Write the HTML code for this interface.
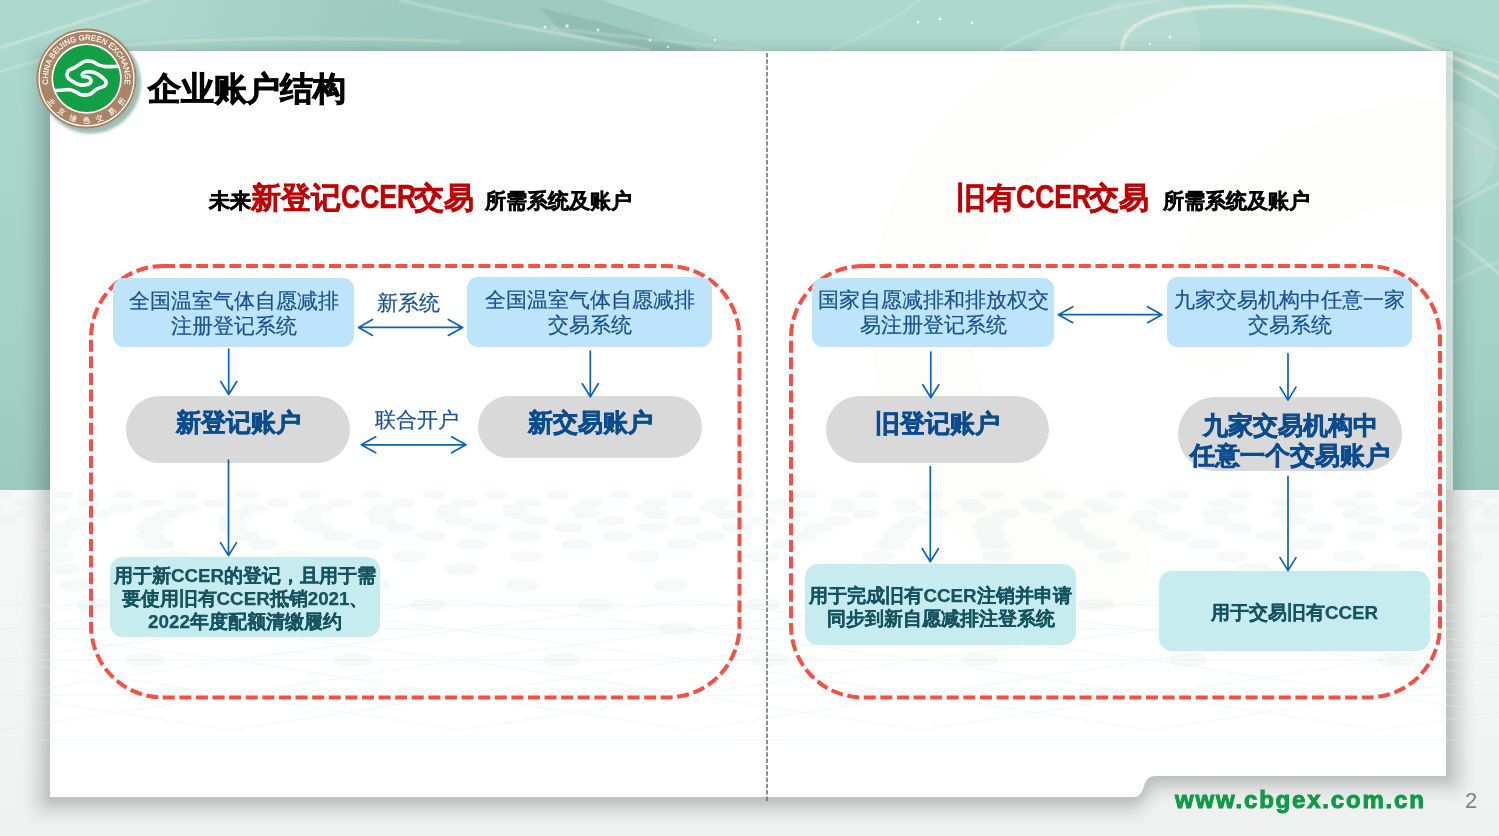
<!DOCTYPE html>
<html><head><meta charset="utf-8">
<style>
html,body{margin:0;padding:0}
body{width:1499px;height:836px;position:relative;overflow:hidden;font-family:"Liberation Sans",sans-serif;background:#f4f5f5}
.a{position:absolute}
.t{position:absolute;white-space:nowrap;text-align:center}
.blue{color:#17518e;font-size:21.2px;line-height:25px;-webkit-text-stroke:0.2px #17518e}
.pill{color:#0a4c8e;font-size:25px;font-weight:bold;line-height:29px;-webkit-text-stroke:0.7px #0a4c8e}
.teal{color:#15535f;font-size:18.8px;font-weight:bold;line-height:23px;-webkit-text-stroke:0.25px #15535f}
.lbl{color:#17518e;font-size:21px;line-height:24px;-webkit-text-stroke:0.2px #17518e}
</style></head><body>

<!-- top teal background -->
<div class="a" style="left:0;top:0;width:1499px;height:490px;background:linear-gradient(180deg,#acd8cd 0%,#a8d5c9 40%,#a3d0c4 75%,#9ccabd 100%)"></div>
<!-- lower background -->
<div class="a" style="left:0;top:490px;width:1499px;height:346px;background:linear-gradient(180deg,#f7f8f8 0%,#f3f4f4 60%,#eeefef 100%)"></div>

<svg class="a" style="left:0;top:0" width="1499" height="836" viewBox="0 0 1499 836">
  <defs>
    <filter id="sh" x="-10%" y="-10%" width="120%" height="120%"><feGaussianBlur stdDeviation="8"/></filter>
    <filter id="sh2" x="-10%" y="-10%" width="120%" height="120%"><feGaussianBlur stdDeviation="3"/></filter>
    <filter id="blur1"><feGaussianBlur stdDeviation="1.2"/></filter>
    <filter id="blur2"><feGaussianBlur stdDeviation="1.5"/></filter>
  </defs>
  <!-- darker building texture in top strip -->
  <linearGradient id="bld" x1="0" y1="0" x2="1" y2="0">
    <stop offset="0" stop-color="#6f9c90" stop-opacity="0"/>
    <stop offset="0.35" stop-color="#6f9c90" stop-opacity="0.22"/>
    <stop offset="0.8" stop-color="#6f9c90" stop-opacity="0.25"/>
    <stop offset="1" stop-color="#6f9c90" stop-opacity="0"/>
  </linearGradient>
  <path d="M150,0 H600 L760,51 H150 Z" fill="url(#bld)"/>
  <path d="M540,8 L600,22 L700,50 L640,51 L560,30 Z" fill="#5f8c80" opacity="0.18"/>
  <g fill="none" stroke="#eef3e2" stroke-linecap="round" filter="url(#blur1)">
    <path d="M400,0 C470,18 560,34 650,50" stroke-width="1.8" opacity="0.6"/>
  </g>
  <g fill="#f4f8ee" opacity="0.85">
    <circle cx="545" cy="27" r="1.6"/><circle cx="567" cy="26" r="1.8"/><circle cx="598" cy="30" r="1.4"/>
    <circle cx="650" cy="40" r="1.5"/><circle cx="668" cy="47" r="1.3"/><circle cx="715" cy="40" r="1.3"/>
    <circle cx="918" cy="22" r="1.5"/><circle cx="940" cy="19" r="1.7"/><circle cx="972" cy="23" r="1.3"/>
    <circle cx="1170" cy="37" r="1.6"/><circle cx="1150" cy="44" r="1.2"/>
  </g>
  <!-- light streaks in top background -->
  <g fill="none" stroke="#eef3e2" stroke-linecap="round" filter="url(#blur1)">
    <path d="M0,48 C50,32 100,14 150,0" stroke-width="2" opacity="0.6"/>
    <path d="M0,72 C40,58 90,48 140,44 C250,36 380,38 460,42" stroke-width="2" opacity="0.5"/>
    <path d="M1122,50 C1122,22 1160,8 1230,6 C1320,4 1420,40 1499,78" stroke-width="3" opacity="0.85"/>
    <path d="M1000,50 C1040,28 1090,10 1160,0" stroke-width="1.6" opacity="0.6"/>
    <path d="M1250,0 C1330,12 1420,40 1499,62" stroke-width="1.4" opacity="0.5"/>
    <path d="M830,50 C870,35 900,15 920,0" stroke-width="1.4" opacity="0.5"/>
    <path d="M550,28 C620,36 690,44 760,50" stroke-width="1.4" opacity="0.5"/>
    <path d="M1446,66 C1465,76 1485,88 1499,97" stroke-width="2.2" opacity="0.8"/>
    <path d="M1446,213 C1465,200 1485,190 1499,183" stroke-width="1.8" opacity="0.6"/>
    <path d="M1446,231 C1465,245 1485,262 1499,274" stroke-width="1.8" opacity="0.6"/>
    <path d="M1446,286 C1465,275 1485,266 1499,262" stroke-width="1.5" opacity="0.5"/>
    <path d="M1446,120 C1465,128 1485,140 1499,150" stroke-width="1.4" opacity="0.45"/>
  </g>

  <!-- card shadow -->
  <path d="M36,51 H1462 V790 H1155 L1138,812 H36 Z" fill="#000" opacity="0.15" filter="url(#sh)"/>
  <path d="M46,51 H1452 V782 H1155 L1138,804 H46 Z" fill="#000" opacity="0.06" filter="url(#sh2)"/>
  <!-- light strip right of card -->
  <rect x="1446" y="51" width="7" height="439" fill="#e2ecea" opacity="0.75"/>
  <!-- card -->
  <path d="M50,51 H1446 V776 H1155 C1149,776 1146,780 1144,786 C1142,792 1140,797 1134,797 H50 Z" fill="#ffffff"/>
  <!-- faint watermark -->
  <g fill="none" stroke="#f6f2ec" stroke-width="100" opacity="0.14" stroke-linecap="round">
    <path d="M1150,40 C1020,110 930,170 921,300 C915,420 980,520 1100,560"/>
    <path d="M1446,150 C1320,150 1220,220 1215,320"/>
  </g>
  <!-- faint lattice pattern -->
  <g id="lattice" fill="#d6ece5" opacity="0.24"><ellipse cx="-0" cy="494.8" rx="12.0" ry="4.0"/><ellipse cx="62" cy="494.8" rx="12.0" ry="4.0"/><ellipse cx="124" cy="494.8" rx="12.0" ry="4.0"/><ellipse cx="186" cy="494.8" rx="12.0" ry="4.0"/><ellipse cx="248" cy="494.8" rx="12.0" ry="4.0"/><ellipse cx="310" cy="494.8" rx="12.0" ry="4.0"/><ellipse cx="372" cy="494.8" rx="12.0" ry="4.0"/><ellipse cx="434" cy="494.8" rx="12.0" ry="4.0"/><ellipse cx="496" cy="494.8" rx="12.0" ry="4.0"/><ellipse cx="558" cy="494.8" rx="12.0" ry="4.0"/><ellipse cx="620" cy="494.8" rx="12.0" ry="4.0"/><ellipse cx="682" cy="494.8" rx="12.0" ry="4.0"/><ellipse cx="744" cy="494.8" rx="12.0" ry="4.0"/><ellipse cx="806" cy="494.8" rx="12.0" ry="4.0"/><ellipse cx="868" cy="494.8" rx="12.0" ry="4.0"/><ellipse cx="930" cy="494.8" rx="12.0" ry="4.0"/><ellipse cx="992" cy="494.8" rx="12.0" ry="4.0"/><ellipse cx="1054" cy="494.8" rx="12.0" ry="4.0"/><ellipse cx="1116" cy="494.8" rx="12.0" ry="4.0"/><ellipse cx="1178" cy="494.8" rx="12.0" ry="4.0"/><ellipse cx="1240" cy="494.8" rx="12.0" ry="4.0"/><ellipse cx="1302" cy="494.8" rx="12.0" ry="4.0"/><ellipse cx="1364" cy="494.8" rx="12.0" ry="4.0"/><ellipse cx="1426" cy="494.8" rx="12.0" ry="4.0"/><ellipse cx="1488" cy="494.8" rx="12.0" ry="4.0"/><ellipse cx="1550" cy="494.8" rx="12.0" ry="4.0"/><ellipse cx="-37" cy="503.0" rx="12.6" ry="4.2"/><ellipse cx="26" cy="503.0" rx="12.6" ry="4.2"/><ellipse cx="89" cy="503.0" rx="12.6" ry="4.2"/><ellipse cx="152" cy="503.0" rx="12.6" ry="4.2"/><ellipse cx="214" cy="503.0" rx="12.6" ry="4.2"/><ellipse cx="277" cy="503.0" rx="12.6" ry="4.2"/><ellipse cx="340" cy="503.0" rx="12.6" ry="4.2"/><ellipse cx="403" cy="503.0" rx="12.6" ry="4.2"/><ellipse cx="466" cy="503.0" rx="12.6" ry="4.2"/><ellipse cx="529" cy="503.0" rx="12.6" ry="4.2"/><ellipse cx="592" cy="503.0" rx="12.6" ry="4.2"/><ellipse cx="655" cy="503.0" rx="12.6" ry="4.2"/><ellipse cx="717" cy="503.0" rx="12.6" ry="4.2"/><ellipse cx="780" cy="503.0" rx="12.6" ry="4.2"/><ellipse cx="843" cy="503.0" rx="12.6" ry="4.2"/><ellipse cx="906" cy="503.0" rx="12.6" ry="4.2"/><ellipse cx="969" cy="503.0" rx="12.6" ry="4.2"/><ellipse cx="1032" cy="503.0" rx="12.6" ry="4.2"/><ellipse cx="1095" cy="503.0" rx="12.6" ry="4.2"/><ellipse cx="1157" cy="503.0" rx="12.6" ry="4.2"/><ellipse cx="1220" cy="503.0" rx="12.6" ry="4.2"/><ellipse cx="1283" cy="503.0" rx="12.6" ry="4.2"/><ellipse cx="1346" cy="503.0" rx="12.6" ry="4.2"/><ellipse cx="1409" cy="503.0" rx="12.6" ry="4.2"/><ellipse cx="1472" cy="503.0" rx="12.6" ry="4.2"/><ellipse cx="1535" cy="503.0" rx="12.6" ry="4.2"/><ellipse cx="-9" cy="508.5" rx="13.1" ry="4.5"/><ellipse cx="57" cy="508.5" rx="13.1" ry="4.5"/><ellipse cx="122" cy="508.5" rx="13.1" ry="4.5"/><ellipse cx="188" cy="508.5" rx="13.1" ry="4.5"/><ellipse cx="253" cy="508.5" rx="13.1" ry="4.5"/><ellipse cx="319" cy="508.5" rx="13.1" ry="4.5"/><ellipse cx="384" cy="508.5" rx="13.1" ry="4.5"/><ellipse cx="450" cy="508.5" rx="13.1" ry="4.5"/><ellipse cx="515" cy="508.5" rx="13.1" ry="4.5"/><ellipse cx="581" cy="508.5" rx="13.1" ry="4.5"/><ellipse cx="646" cy="508.5" rx="13.1" ry="4.5"/><ellipse cx="712" cy="508.5" rx="13.1" ry="4.5"/><ellipse cx="777" cy="508.5" rx="13.1" ry="4.5"/><ellipse cx="843" cy="508.5" rx="13.1" ry="4.5"/><ellipse cx="908" cy="508.5" rx="13.1" ry="4.5"/><ellipse cx="974" cy="508.5" rx="13.1" ry="4.5"/><ellipse cx="1039" cy="508.5" rx="13.1" ry="4.5"/><ellipse cx="1104" cy="508.5" rx="13.1" ry="4.5"/><ellipse cx="1170" cy="508.5" rx="13.1" ry="4.5"/><ellipse cx="1235" cy="508.5" rx="13.1" ry="4.5"/><ellipse cx="1301" cy="508.5" rx="13.1" ry="4.5"/><ellipse cx="1366" cy="508.5" rx="13.1" ry="4.5"/><ellipse cx="1432" cy="508.5" rx="13.1" ry="4.5"/><ellipse cx="1497" cy="508.5" rx="13.1" ry="4.5"/><ellipse cx="1563" cy="508.5" rx="13.1" ry="4.5"/><ellipse cx="-41" cy="514.0" rx="13.7" ry="4.8"/><ellipse cx="29" cy="514.0" rx="13.7" ry="4.8"/><ellipse cx="98" cy="514.0" rx="13.7" ry="4.8"/><ellipse cx="168" cy="514.0" rx="13.7" ry="4.8"/><ellipse cx="238" cy="514.0" rx="13.7" ry="4.8"/><ellipse cx="308" cy="514.0" rx="13.7" ry="4.8"/><ellipse cx="378" cy="514.0" rx="13.7" ry="4.8"/><ellipse cx="447" cy="514.0" rx="13.7" ry="4.8"/><ellipse cx="517" cy="514.0" rx="13.7" ry="4.8"/><ellipse cx="587" cy="514.0" rx="13.7" ry="4.8"/><ellipse cx="657" cy="514.0" rx="13.7" ry="4.8"/><ellipse cx="727" cy="514.0" rx="13.7" ry="4.8"/><ellipse cx="796" cy="514.0" rx="13.7" ry="4.8"/><ellipse cx="866" cy="514.0" rx="13.7" ry="4.8"/><ellipse cx="936" cy="514.0" rx="13.7" ry="4.8"/><ellipse cx="1006" cy="514.0" rx="13.7" ry="4.8"/><ellipse cx="1076" cy="514.0" rx="13.7" ry="4.8"/><ellipse cx="1146" cy="514.0" rx="13.7" ry="4.8"/><ellipse cx="1215" cy="514.0" rx="13.7" ry="4.8"/><ellipse cx="1285" cy="514.0" rx="13.7" ry="4.8"/><ellipse cx="1355" cy="514.0" rx="13.7" ry="4.8"/><ellipse cx="1425" cy="514.0" rx="13.7" ry="4.8"/><ellipse cx="1495" cy="514.0" rx="13.7" ry="4.8"/><ellipse cx="1564" cy="514.0" rx="13.7" ry="4.8"/><ellipse cx="-72" cy="521.0" rx="14.3" ry="5.0"/><ellipse cx="4" cy="521.0" rx="14.3" ry="5.0"/><ellipse cx="80" cy="521.0" rx="14.3" ry="5.0"/><ellipse cx="156" cy="521.0" rx="14.3" ry="5.0"/><ellipse cx="231" cy="521.0" rx="14.3" ry="5.0"/><ellipse cx="307" cy="521.0" rx="14.3" ry="5.0"/><ellipse cx="383" cy="521.0" rx="14.3" ry="5.0"/><ellipse cx="459" cy="521.0" rx="14.3" ry="5.0"/><ellipse cx="535" cy="521.0" rx="14.3" ry="5.0"/><ellipse cx="611" cy="521.0" rx="14.3" ry="5.0"/><ellipse cx="687" cy="521.0" rx="14.3" ry="5.0"/><ellipse cx="763" cy="521.0" rx="14.3" ry="5.0"/><ellipse cx="838" cy="521.0" rx="14.3" ry="5.0"/><ellipse cx="914" cy="521.0" rx="14.3" ry="5.0"/><ellipse cx="990" cy="521.0" rx="14.3" ry="5.0"/><ellipse cx="1066" cy="521.0" rx="14.3" ry="5.0"/><ellipse cx="1142" cy="521.0" rx="14.3" ry="5.0"/><ellipse cx="1218" cy="521.0" rx="14.3" ry="5.0"/><ellipse cx="1294" cy="521.0" rx="14.3" ry="5.0"/><ellipse cx="1370" cy="521.0" rx="14.3" ry="5.0"/><ellipse cx="1445" cy="521.0" rx="14.3" ry="5.0"/><ellipse cx="1521" cy="521.0" rx="14.3" ry="5.0"/><ellipse cx="-18" cy="527.8" rx="14.9" ry="5.2"/><ellipse cx="66" cy="527.8" rx="14.9" ry="5.2"/><ellipse cx="150" cy="527.8" rx="14.9" ry="5.2"/><ellipse cx="233" cy="527.8" rx="14.9" ry="5.2"/><ellipse cx="317" cy="527.8" rx="14.9" ry="5.2"/><ellipse cx="401" cy="527.8" rx="14.9" ry="5.2"/><ellipse cx="484" cy="527.8" rx="14.9" ry="5.2"/><ellipse cx="568" cy="527.8" rx="14.9" ry="5.2"/><ellipse cx="652" cy="527.8" rx="14.9" ry="5.2"/><ellipse cx="736" cy="527.8" rx="14.9" ry="5.2"/><ellipse cx="819" cy="527.8" rx="14.9" ry="5.2"/><ellipse cx="903" cy="527.8" rx="14.9" ry="5.2"/><ellipse cx="987" cy="527.8" rx="14.9" ry="5.2"/><ellipse cx="1070" cy="527.8" rx="14.9" ry="5.2"/><ellipse cx="1154" cy="527.8" rx="14.9" ry="5.2"/><ellipse cx="1238" cy="527.8" rx="14.9" ry="5.2"/><ellipse cx="1321" cy="527.8" rx="14.9" ry="5.2"/><ellipse cx="1405" cy="527.8" rx="14.9" ry="5.2"/><ellipse cx="1489" cy="527.8" rx="14.9" ry="5.2"/><ellipse cx="1572" cy="527.8" rx="14.9" ry="5.2"/><ellipse cx="-36" cy="536.0" rx="15.4" ry="5.5"/><ellipse cx="58" cy="536.0" rx="15.4" ry="5.5"/><ellipse cx="151" cy="536.0" rx="15.4" ry="5.5"/><ellipse cx="244" cy="536.0" rx="15.4" ry="5.5"/><ellipse cx="337" cy="536.0" rx="15.4" ry="5.5"/><ellipse cx="431" cy="536.0" rx="15.4" ry="5.5"/><ellipse cx="524" cy="536.0" rx="15.4" ry="5.5"/><ellipse cx="617" cy="536.0" rx="15.4" ry="5.5"/><ellipse cx="710" cy="536.0" rx="15.4" ry="5.5"/><ellipse cx="803" cy="536.0" rx="15.4" ry="5.5"/><ellipse cx="897" cy="536.0" rx="15.4" ry="5.5"/><ellipse cx="990" cy="536.0" rx="15.4" ry="5.5"/><ellipse cx="1083" cy="536.0" rx="15.4" ry="5.5"/><ellipse cx="1176" cy="536.0" rx="15.4" ry="5.5"/><ellipse cx="1270" cy="536.0" rx="15.4" ry="5.5"/><ellipse cx="1363" cy="536.0" rx="15.4" ry="5.5"/><ellipse cx="1456" cy="536.0" rx="15.4" ry="5.5"/><ellipse cx="1549" cy="536.0" rx="15.4" ry="5.5"/><ellipse cx="-50" cy="544.3" rx="16.0" ry="5.8"/><ellipse cx="54" cy="544.3" rx="16.0" ry="5.8"/><ellipse cx="159" cy="544.3" rx="16.0" ry="5.8"/><ellipse cx="264" cy="544.3" rx="16.0" ry="5.8"/><ellipse cx="368" cy="544.3" rx="16.0" ry="5.8"/><ellipse cx="472" cy="544.3" rx="16.0" ry="5.8"/><ellipse cx="577" cy="544.3" rx="16.0" ry="5.8"/><ellipse cx="682" cy="544.3" rx="16.0" ry="5.8"/><ellipse cx="786" cy="544.3" rx="16.0" ry="5.8"/><ellipse cx="890" cy="544.3" rx="16.0" ry="5.8"/><ellipse cx="995" cy="544.3" rx="16.0" ry="5.8"/><ellipse cx="1100" cy="544.3" rx="16.0" ry="5.8"/><ellipse cx="1204" cy="544.3" rx="16.0" ry="5.8"/><ellipse cx="1308" cy="544.3" rx="16.0" ry="5.8"/><ellipse cx="1413" cy="544.3" rx="16.0" ry="5.8"/><ellipse cx="1518" cy="544.3" rx="16.0" ry="5.8"/><ellipse cx="-61" cy="556.7" rx="16.6" ry="6.0"/><ellipse cx="57" cy="556.7" rx="16.6" ry="6.0"/><ellipse cx="174" cy="556.7" rx="16.6" ry="6.0"/><ellipse cx="292" cy="556.7" rx="16.6" ry="6.0"/><ellipse cx="409" cy="556.7" rx="16.6" ry="6.0"/><ellipse cx="527" cy="556.7" rx="16.6" ry="6.0"/><ellipse cx="644" cy="556.7" rx="16.6" ry="6.0"/><ellipse cx="762" cy="556.7" rx="16.6" ry="6.0"/><ellipse cx="879" cy="556.7" rx="16.6" ry="6.0"/><ellipse cx="997" cy="556.7" rx="16.6" ry="6.0"/><ellipse cx="1114" cy="556.7" rx="16.6" ry="6.0"/><ellipse cx="1232" cy="556.7" rx="16.6" ry="6.0"/><ellipse cx="1349" cy="556.7" rx="16.6" ry="6.0"/><ellipse cx="1467" cy="556.7" rx="16.6" ry="6.0"/><ellipse cx="1584" cy="556.7" rx="16.6" ry="6.0"/><ellipse cx="64" cy="569.0" rx="17.1" ry="6.2"/><ellipse cx="196" cy="569.0" rx="17.1" ry="6.2"/><ellipse cx="328" cy="569.0" rx="17.1" ry="6.2"/><ellipse cx="461" cy="569.0" rx="17.1" ry="6.2"/><ellipse cx="857" cy="569.0" rx="17.1" ry="6.2"/><ellipse cx="1254" cy="569.0" rx="17.1" ry="6.2"/><ellipse cx="1386" cy="569.0" rx="17.1" ry="6.2"/><ellipse cx="1519" cy="569.0" rx="17.1" ry="6.2"/><ellipse cx="-73" cy="585.5" rx="17.7" ry="6.5"/><ellipse cx="76" cy="585.5" rx="17.7" ry="6.5"/><ellipse cx="374" cy="585.5" rx="17.7" ry="6.5"/><ellipse cx="522" cy="585.5" rx="17.7" ry="6.5"/><ellipse cx="671" cy="585.5" rx="17.7" ry="6.5"/><ellipse cx="820" cy="585.5" rx="17.7" ry="6.5"/><ellipse cx="969" cy="585.5" rx="17.7" ry="6.5"/><ellipse cx="1266" cy="585.5" rx="17.7" ry="6.5"/><ellipse cx="1415" cy="585.5" rx="17.7" ry="6.5"/><ellipse cx="94" cy="604.8" rx="18.3" ry="6.8"/><ellipse cx="261" cy="604.8" rx="18.3" ry="6.8"/><ellipse cx="428" cy="604.8" rx="18.3" ry="6.8"/><ellipse cx="595" cy="604.8" rx="18.3" ry="6.8"/><ellipse cx="762" cy="604.8" rx="18.3" ry="6.8"/><ellipse cx="929" cy="604.8" rx="18.3" ry="6.8"/><ellipse cx="1096" cy="604.8" rx="18.3" ry="6.8"/><ellipse cx="1262" cy="604.8" rx="18.3" ry="6.8"/><ellipse cx="1429" cy="604.8" rx="18.3" ry="6.8"/><ellipse cx="1596" cy="604.8" rx="18.3" ry="6.8"/><ellipse cx="-70" cy="629.0" rx="18.9" ry="7.0"/><ellipse cx="677" cy="629.0" rx="18.9" ry="7.0"/><ellipse cx="864" cy="629.0" rx="18.9" ry="7.0"/><ellipse cx="1051" cy="629.0" rx="18.9" ry="7.0"/><ellipse cx="1425" cy="629.0" rx="18.9" ry="7.0"/><ellipse cx="1612" cy="629.0" rx="18.9" ry="7.0"/><ellipse cx="-64" cy="659.8" rx="19.4" ry="7.2"/><ellipse cx="145" cy="659.8" rx="19.4" ry="7.2"/><ellipse cx="353" cy="659.8" rx="19.4" ry="7.2"/><ellipse cx="562" cy="659.8" rx="19.4" ry="7.2"/><ellipse cx="770" cy="659.8" rx="19.4" ry="7.2"/><ellipse cx="979" cy="659.8" rx="19.4" ry="7.2"/><ellipse cx="1188" cy="659.8" rx="19.4" ry="7.2"/><ellipse cx="1396" cy="659.8" rx="19.4" ry="7.2"/><ellipse cx="1605" cy="659.8" rx="19.4" ry="7.2"/><ellipse cx="178" cy="695.0" rx="20.0" ry="7.5"/><ellipse cx="410" cy="695.0" rx="20.0" ry="7.5"/><ellipse cx="642" cy="695.0" rx="20.0" ry="7.5"/><ellipse cx="874" cy="695.0" rx="20.0" ry="7.5"/><ellipse cx="1106" cy="695.0" rx="20.0" ry="7.5"/><ellipse cx="1570" cy="695.0" rx="20.0" ry="7.5"/></g>
  <g fill="none" stroke="#e3f0ed" stroke-width="1.2" opacity="0.45"><path d="M-920,600 L-460,660 L0,730"/><path d="M0,600 L-460,660 L-920,730"/><path d="M-690,600 L-230,660 L230,730"/><path d="M230,600 L-230,660 L-690,730"/><path d="M-460,600 L0,660 L460,730"/><path d="M460,600 L0,660 L-460,730"/><path d="M-230,600 L230,660 L690,730"/><path d="M690,600 L230,660 L-230,730"/><path d="M0,600 L460,660 L920,730"/><path d="M920,600 L460,660 L0,730"/><path d="M230,600 L690,660 L1150,730"/><path d="M1150,600 L690,660 L230,730"/><path d="M460,600 L920,660 L1380,730"/><path d="M1380,600 L920,660 L460,730"/><path d="M690,600 L1150,660 L1610,730"/><path d="M1610,600 L1150,660 L690,730"/><path d="M920,600 L1380,660 L1840,730"/><path d="M1840,600 L1380,660 L920,730"/><path d="M1150,600 L1610,660 L2070,730"/><path d="M2070,600 L1610,660 L1150,730"/><path d="M1380,600 L1840,660 L2300,730"/><path d="M2300,600 L1840,660 L1380,730"/><path d="M1610,600 L2070,660 L2530,730"/><path d="M2530,600 L2070,660 L1610,730"/><path d="M1840,600 L2300,660 L2760,730"/><path d="M2760,600 L2300,660 L1840,730"/><path d="M2070,600 L2530,660 L2990,730"/><path d="M2990,600 L2530,660 L2070,730"/><path d="M0,604.8 H1499"/><path d="M0,629 H1499"/><path d="M0,659.8 H1499"/><path d="M0,695 H1499"/><path d="M0,740 H1499"/></g>

  <!-- vertical divider -->
  <line x1="767" y1="53" x2="767" y2="801" stroke="#6b6b6b" stroke-width="1.5" stroke-dasharray="4.5 1.8"/>

  <!-- dashed red rounded rects -->
  <rect x="91" y="266" width="648.5" height="431.5" rx="72" ry="72" fill="none" stroke="#f65045" stroke-width="4" stroke-dasharray="12 4.6"/>
  <rect x="791" y="266" width="649" height="431.5" rx="72" ry="72" fill="none" stroke="#f65045" stroke-width="4" stroke-dasharray="12 4.6"/>

  <!-- boxes left -->
  <rect x="113" y="278" width="241" height="69" rx="11" fill="#bde4fb"/>
  <rect x="467" y="277" width="245" height="70" rx="11" fill="#bde4fb"/>
  <rect x="126" y="396" width="224" height="67" rx="33.5" fill="#d9d9d9"/>
  <rect x="478" y="396" width="224" height="62" rx="31" fill="#d9d9d9"/>
  <rect x="110" y="557" width="270" height="80" rx="13" fill="#c6ecf0"/>
  <!-- boxes right -->
  <rect x="812" y="278" width="242" height="69" rx="11" fill="#bde4fb"/>
  <rect x="1167" y="277" width="245" height="70" rx="11" fill="#bde4fb"/>
  <rect x="826" y="396" width="223" height="67" rx="33.5" fill="#d9d9d9"/>
  <rect x="1178" y="397" width="224" height="74" rx="37" fill="#d9d9d9"/>
  <rect x="805" y="564" width="271" height="81" rx="13" fill="#c6ecf0"/>
  <rect x="1159" y="571" width="271" height="80" rx="13" fill="#c6ecf0"/>

  <!-- arrows -->
  <g fill="none" stroke="#0f63b3" stroke-width="1.7" stroke-linecap="round" stroke-linejoin="round">
    <path d="M228.7,349 V394.5 M220.7,381.5 L228.7,394.5 L236.7,381.5"/>
    <path d="M590.3,351 V396.8 M582.3,383.8 L590.3,396.8 L598.3,383.8"/>
    <path d="M228.5,460 V555.6 M220.5,542.6 L228.5,555.6 L236.5,542.6"/>
    <path d="M358.6,327.4 H462.7 M372.5,319.4 L358.6,327.4 L372.5,335.4 M448.3,319.4 L462.7,327.4 L448.3,335.4"/>
    <path d="M361.3,444.8 H466 M375.7,436.8 L361.3,444.8 L375.7,452.8 M451.6,436.8 L466,444.8 L451.6,452.8"/>
    <path d="M930.8,352 V397.7 M922.8,384.7 L930.8,397.7 L938.8,384.7"/>
    <path d="M1288,353.6 V400.1 M1280,387.1 L1288,400.1 L1296,387.1"/>
    <path d="M930.3,466.6 V561.7 M922.3,548.7 L930.3,561.7 L938.3,548.7"/>
    <path d="M1288,476.4 V570.6 M1280,557.6 L1288,570.6 L1296,557.6"/>
    <path d="M1058.4,314.7 H1161.9 M1072.8,306.7 L1058.4,314.7 L1072.8,322.7 M1147.5,306.7 L1161.9,314.7 L1147.5,322.7"/>
  </g>

  <!-- logo -->
  <g>
    <clipPath id="gclip"><circle cx="86.6" cy="78.6" r="33.5"/></clipPath>
    <circle cx="90.5" cy="83" r="50.5" fill="#7da89e" opacity="0.75" filter="url(#blur2)"/>
    <circle cx="86.5" cy="78.5" r="50" fill="#a98467"/>
    <circle cx="86.5" cy="78.5" r="47.4" fill="none" stroke="#fff" stroke-width="1.3"/>
    <circle cx="86.6" cy="78.6" r="35.2" fill="#fff"/>
    <circle cx="86.6" cy="78.6" r="33.5" fill="#129f45"/>
    <path id="arcTop" d="M50.3,91.7 A38.5,38.5 0 1 1 122.7,91.7" fill="none"/>
    <text font-family="Liberation Sans" font-size="7.8" fill="#fff" stroke="#fff" stroke-width="0.15"><textPath href="#arcTop" startOffset="50%" text-anchor="middle">CHINA BEIJING GREEN EXCHANGE</textPath></text>
        <path id="arcBot2" d="M45.0,63.4 A44.2,44.2 0 1 0 128.0,63.4" fill="none"/>
    <text font-size="7.4" fill="#fff" stroke="#fff" stroke-width="0.1" letter-spacing="7.4" dx="3.7"><textPath href="#arcBot2" startOffset="50%" text-anchor="middle">北京绿色交易所</textPath></text>
    <g clip-path="url(#gclip)">
      <path d="M118.0,66.3 C116.0,66.3 108.9,66.8 105.7,66.6 C102.5,66.4 101.0,65.8 98.8,65.0 C96.5,64.2 94.5,62.1 92.3,61.5 C90.1,60.9 87.4,60.8 85.3,61.2 C83.2,61.6 81.6,63.1 79.9,64.1 C78.2,65.1 76.9,66.4 75.1,67.4 C73.3,68.4 70.4,68.9 69.1,70.1 C67.8,71.3 67.1,73.0 67.0,74.4 C66.9,75.8 67.5,77.5 68.6,78.7 C69.7,80.0 71.8,80.9 73.5,81.9 C75.2,82.9 76.9,84.1 78.8,84.6 C80.7,85.1 82.9,85.2 84.8,84.9 C86.7,84.6 89.1,83.8 90.1,83.0 C91.1,82.2 91.2,80.8 90.9,79.8 C90.6,78.8 89.3,77.6 88.0,77.1 C86.7,76.5 84.0,77.0 83.1,76.5 C82.2,76.0 82.0,74.6 82.6,73.8 C83.2,73.0 85.1,72.0 86.9,71.7 C88.7,71.4 91.5,71.8 93.4,72.2 C95.3,72.7 96.7,73.5 98.2,74.4 C99.7,75.3 101.2,76.4 102.5,77.6 C103.8,78.8 105.6,80.1 106.0,81.4 C106.4,82.8 105.7,84.6 104.7,85.7 C103.7,86.8 101.3,87.1 99.8,87.8 C98.3,88.5 97.0,89.0 95.5,90.0 C94.0,91.0 92.4,92.9 90.7,93.8 C89.0,94.6 87.1,95.0 85.3,95.1 C83.5,95.2 81.6,94.9 79.9,94.3 C78.2,93.7 76.8,92.4 75.1,91.6 C73.4,90.8 72.2,89.9 69.7,89.7 C67.2,89.5 62.6,90.1 60.0,90.2 C57.4,90.4 55.0,90.5 50,90.6" fill="none" stroke="#fff" stroke-width="3.6" stroke-linecap="round" stroke-linejoin="round"/>
    </g>
  </g>
</svg>

<!-- Title -->
<div class="t" id="title" style="left:148px;top:68.5px;font-size:33.2px;font-weight:bold;color:#000;line-height:40px;-webkit-text-stroke:0.9px #000">企业账户结构</div>

<!-- subtitles -->
<div class="t" id="subL" style="left:208.5px;top:176px;font-weight:bold;color:#000;line-height:40px;-webkit-text-stroke:0.5px #000"><span style="font-size:20.5px">未来</span><span style="font-size:29.5px;color:#c00000;-webkit-text-stroke:0.6px #c00000">新登记<span style="display:inline-block;font-size:34px;transform:scaleX(0.78);transform-origin:0 50%;margin-right:-23.5px;margin-left:0.5px">CCER</span>交易</span><span style="font-size:21px;margin-left:-1px">&nbsp;&nbsp;所需系统及账户</span></div>
<div class="t" id="subR" style="left:955.5px;top:176px;font-weight:bold;color:#000;line-height:40px;-webkit-text-stroke:0.5px #000"><span style="font-size:29.5px;color:#c00000;-webkit-text-stroke:0.6px #c00000">旧有<span style="display:inline-block;font-size:34px;transform:scaleX(0.78);transform-origin:0 50%;margin-right:-23.5px;margin-left:0.5px">CCER</span>交易</span><span style="font-size:21px;margin-left:2px">&nbsp;&nbsp;所需系统及账户</span></div>

<!-- left panel texts -->
<div class="t blue" style="left:113px;top:288px;width:241px">全国温室气体自愿减排<br>注册登记系统</div>
<div class="t blue" style="left:467px;top:287px;width:245px">全国温室气体自愿减排<br>交易系统</div>
<div class="t lbl" style="left:358px;top:291px;width:101px">新系统</div>
<div class="t lbl" style="left:363px;top:408px;width:108px">联合开户</div>
<div class="t pill" style="left:126px;top:408px;width:224px">新登记账户</div>
<div class="t pill" style="left:478px;top:408px;width:224px">新交易账户</div>
<div class="t teal" style="left:110px;top:564px;width:270px">用于新CCER的登记，且用于需<br>要使用旧有CCER抵销2021、<br>2022年度配额清缴履约</div>

<!-- right panel texts -->
<div class="t blue" style="left:812px;top:287px;width:242px">国家自愿减排和排放权交<br>易注册登记系统</div>
<div class="t blue" style="left:1167px;top:287px;width:245px">九家交易机构中任意一家<br>交易系统</div>
<div class="t pill" style="left:826px;top:409px;width:223px">旧登记账户</div>
<div class="t pill" style="left:1178px;top:409.5px;width:224px;line-height:30px">九家交易机构中<br>任意一个交易账户</div>
<div class="t teal" style="left:805px;top:584px;width:271px">用于完成旧有CCER注销并申请<br>同步到新自愿减排注登系统</div>
<div class="t teal" style="left:1159px;top:601px;width:271px">用于交易旧有CCER</div>

<!-- footer -->
<div class="t" id="url" style="left:1175px;top:785px;font-size:24px;font-weight:bold;color:#0f9a48;letter-spacing:1.8px;line-height:30px;-webkit-text-stroke:1px #0f9a48">www.cbgex.com.cn</div>
<div class="t" id="pg" style="left:1465px;top:786px;font-size:22px;color:#7f7f7f;line-height:30px">2</div>

</body></html>
